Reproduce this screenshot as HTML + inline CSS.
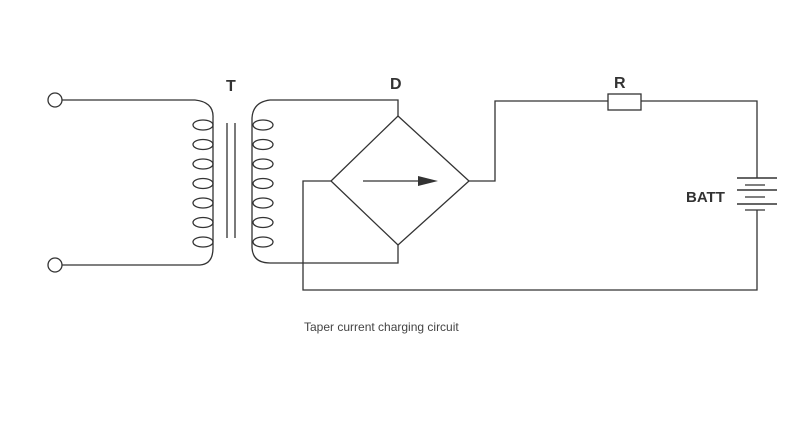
<!DOCTYPE html>
<html><head><style>body{margin:0;background:#fff}svg{display:block}</style></head><body>
<svg width="795" height="448" viewBox="0 0 795 448" xmlns="http://www.w3.org/2000/svg" font-family="Liberation Sans, sans-serif">
<g fill="none" stroke="#333" stroke-width="1.3">
<circle cx="55" cy="100" r="7"/>
<circle cx="55" cy="265" r="7"/>
<path d="M62 100 H195 Q214 102 213 118 V248 Q213 264 200 265 H62"/>
<ellipse cx="203" cy="125" rx="10" ry="5"/>
<ellipse cx="203" cy="144.5" rx="10" ry="5"/>
<ellipse cx="203" cy="164" rx="10" ry="5"/>
<ellipse cx="203" cy="183.5" rx="10" ry="5"/>
<ellipse cx="203" cy="203" rx="10" ry="5"/>
<ellipse cx="203" cy="222.5" rx="10" ry="5"/>
<ellipse cx="203" cy="242" rx="10" ry="5"/>
<path d="M227 123 V238 M235 123 V238"/>
<path d="M398 116 V100 H270 Q253 102 252 118 V248 Q253 263 270 263 H398 V245"/>
<ellipse cx="263" cy="125" rx="10" ry="5"/>
<ellipse cx="263" cy="144.5" rx="10" ry="5"/>
<ellipse cx="263" cy="164" rx="10" ry="5"/>
<ellipse cx="263" cy="183.5" rx="10" ry="5"/>
<ellipse cx="263" cy="203" rx="10" ry="5"/>
<ellipse cx="263" cy="222.5" rx="10" ry="5"/>
<ellipse cx="263" cy="242" rx="10" ry="5"/>
<path d="M398 116 L469 181 L398 245 L331 181 Z"/>
<path d="M331 181 H303 V290 H757 V210"/>
<path d="M469 181 H495 V101 H608 M641 101 H757 V178"/>
<rect x="608" y="94" width="33" height="16"/>
<path d="M363 181 H420"/>
<path d="M737 178 H777 M737 190 H777 M737 204 H777" stroke-width="1.6"/>
<path d="M745 185 H765 M745 197 H765 M745 210 H765"/>
</g>
<path d="M418 176 L438 181 L418 186 Z" fill="#333"/>
<g fill="#333" font-weight="bold" font-size="16">
<text x="226" y="91">T</text>
<text x="390" y="89">D</text>
<text x="614" y="88">R</text>
<text x="686" y="202" font-size="15">BATT</text>
</g>
<text x="304" y="331" font-size="12" fill="#444">Taper current charging circuit</text>
</svg>
</body></html>
